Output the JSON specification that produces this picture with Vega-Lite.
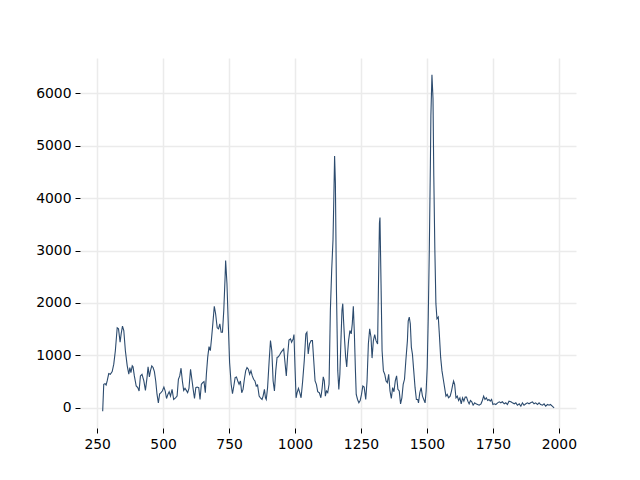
{
  "$schema": "https://vega.github.io/schema/vega-lite/v6.json",
  "width": 496,
  "height": 370,
  "autosize": {"type": "none"},
  "padding": {"left": 80, "top": 58, "right": 64, "bottom": 52},
  "background": "white",
  "config": {
    "view": {"stroke": null},
    "axis": {
      "domain": false,
      "grid": true,
      "gridColor": "#ebebeb",
      "gridWidth": 1.5,
      "tickColor": "#000000",
      "tickWidth": 1,
      "tickSize": 5,
      "labelFont": "DejaVu Sans",
      "labelFontSize": 13.9,
      "labelColor": "#000000",
      "labelPadding": 4,
      "title": null
    }
  },
  "data": {
    "values": [
      {"x": 271, "y": -64}, {"x": 275, "y": 449}, {"x": 280, "y": 462}, {"x": 284, "y": 436}, {"x": 288, "y": 513},
      {"x": 294, "y": 654}, {"x": 300, "y": 641}, {"x": 307, "y": 692}, {"x": 313, "y": 833}, {"x": 319, "y": 1090},
      {"x": 326, "y": 1526}, {"x": 331, "y": 1506}, {"x": 337, "y": 1250}, {"x": 341, "y": 1410}, {"x": 346, "y": 1558},
      {"x": 351, "y": 1474}, {"x": 357, "y": 1090}, {"x": 364, "y": 801}, {"x": 370, "y": 641}, {"x": 374, "y": 769},
      {"x": 378, "y": 673}, {"x": 383, "y": 801}, {"x": 386, "y": 782}, {"x": 391, "y": 609}, {"x": 398, "y": 417},
      {"x": 404, "y": 385}, {"x": 409, "y": 321}, {"x": 414, "y": 609}, {"x": 420, "y": 641}, {"x": 427, "y": 513},
      {"x": 433, "y": 333}, {"x": 439, "y": 577}, {"x": 443, "y": 782}, {"x": 448, "y": 590}, {"x": 452, "y": 705},
      {"x": 457, "y": 801}, {"x": 462, "y": 769}, {"x": 467, "y": 692}, {"x": 472, "y": 513}, {"x": 477, "y": 256},
      {"x": 482, "y": 96}, {"x": 487, "y": 269}, {"x": 492, "y": 289}, {"x": 497, "y": 321}, {"x": 503, "y": 397},
      {"x": 508, "y": 321}, {"x": 513, "y": 179}, {"x": 518, "y": 256}, {"x": 523, "y": 308}, {"x": 528, "y": 224},
      {"x": 534, "y": 353}, {"x": 540, "y": 160}, {"x": 547, "y": 192}, {"x": 553, "y": 224}, {"x": 558, "y": 545},
      {"x": 563, "y": 609}, {"x": 568, "y": 756}, {"x": 573, "y": 513}, {"x": 578, "y": 333}, {"x": 583, "y": 372},
      {"x": 588, "y": 333}, {"x": 593, "y": 289}, {"x": 598, "y": 372}, {"x": 604, "y": 737}, {"x": 609, "y": 545},
      {"x": 614, "y": 353}, {"x": 619, "y": 179}, {"x": 624, "y": 385}, {"x": 629, "y": 397}, {"x": 635, "y": 385},
      {"x": 640, "y": 160}, {"x": 645, "y": 449}, {"x": 650, "y": 481}, {"x": 655, "y": 500}, {"x": 660, "y": 289},
      {"x": 664, "y": 641}, {"x": 669, "y": 962}, {"x": 674, "y": 1167}, {"x": 679, "y": 1090}, {"x": 684, "y": 1346},
      {"x": 689, "y": 1635}, {"x": 694, "y": 1936}, {"x": 699, "y": 1795}, {"x": 705, "y": 1526}, {"x": 710, "y": 1506},
      {"x": 715, "y": 1602}, {"x": 720, "y": 1442}, {"x": 725, "y": 1442}, {"x": 730, "y": 1859}, {"x": 735, "y": 2500},
      {"x": 737, "y": 2808}, {"x": 742, "y": 2372}, {"x": 747, "y": 1602}, {"x": 752, "y": 865}, {"x": 758, "y": 449},
      {"x": 763, "y": 269}, {"x": 768, "y": 417}, {"x": 773, "y": 577}, {"x": 778, "y": 590}, {"x": 783, "y": 513},
      {"x": 788, "y": 449}, {"x": 793, "y": 513}, {"x": 798, "y": 289}, {"x": 803, "y": 353}, {"x": 808, "y": 545},
      {"x": 813, "y": 705}, {"x": 818, "y": 769}, {"x": 823, "y": 737}, {"x": 828, "y": 641}, {"x": 833, "y": 705},
      {"x": 838, "y": 609}, {"x": 843, "y": 545}, {"x": 848, "y": 513}, {"x": 853, "y": 417}, {"x": 858, "y": 436},
      {"x": 864, "y": 224}, {"x": 869, "y": 192}, {"x": 875, "y": 160}, {"x": 879, "y": 224}, {"x": 884, "y": 353},
      {"x": 888, "y": 192}, {"x": 891, "y": 160}, {"x": 896, "y": 385}, {"x": 902, "y": 897}, {"x": 907, "y": 1282},
      {"x": 912, "y": 1090}, {"x": 917, "y": 513}, {"x": 922, "y": 321}, {"x": 927, "y": 705}, {"x": 932, "y": 962},
      {"x": 937, "y": 974}, {"x": 942, "y": 1013}, {"x": 947, "y": 1058}, {"x": 952, "y": 1090}, {"x": 957, "y": 1122},
      {"x": 962, "y": 865}, {"x": 967, "y": 609}, {"x": 972, "y": 994}, {"x": 977, "y": 1295}, {"x": 983, "y": 1314},
      {"x": 987, "y": 1250}, {"x": 993, "y": 1314}, {"x": 996, "y": 1397}, {"x": 1000, "y": 769}, {"x": 1004, "y": 192},
      {"x": 1008, "y": 289}, {"x": 1013, "y": 372}, {"x": 1018, "y": 289}, {"x": 1023, "y": 192}, {"x": 1029, "y": 513},
      {"x": 1035, "y": 897}, {"x": 1041, "y": 1410}, {"x": 1045, "y": 1442}, {"x": 1050, "y": 1026}, {"x": 1055, "y": 1218},
      {"x": 1061, "y": 1282}, {"x": 1066, "y": 1282}, {"x": 1071, "y": 897}, {"x": 1076, "y": 513}, {"x": 1081, "y": 449},
      {"x": 1086, "y": 308}, {"x": 1092, "y": 289}, {"x": 1098, "y": 192}, {"x": 1103, "y": 385}, {"x": 1107, "y": 590},
      {"x": 1111, "y": 513}, {"x": 1115, "y": 224}, {"x": 1119, "y": 321}, {"x": 1124, "y": 289}, {"x": 1129, "y": 449},
      {"x": 1134, "y": 1859}, {"x": 1139, "y": 2628}, {"x": 1144, "y": 3205}, {"x": 1147, "y": 3974}, {"x": 1150, "y": 4800},
      {"x": 1153, "y": 4295}, {"x": 1157, "y": 2244}, {"x": 1162, "y": 705}, {"x": 1166, "y": 353}, {"x": 1170, "y": 641},
      {"x": 1174, "y": 1282}, {"x": 1178, "y": 1859}, {"x": 1181, "y": 1987}, {"x": 1184, "y": 1667}, {"x": 1188, "y": 1282},
      {"x": 1192, "y": 962}, {"x": 1196, "y": 782}, {"x": 1199, "y": 1026}, {"x": 1203, "y": 1282}, {"x": 1208, "y": 1474},
      {"x": 1213, "y": 1410}, {"x": 1217, "y": 1602}, {"x": 1221, "y": 1936}, {"x": 1225, "y": 1410}, {"x": 1229, "y": 705},
      {"x": 1232, "y": 256}, {"x": 1237, "y": 160}, {"x": 1242, "y": 96}, {"x": 1247, "y": 141}, {"x": 1252, "y": 256},
      {"x": 1257, "y": 417}, {"x": 1262, "y": 397}, {"x": 1268, "y": 160}, {"x": 1273, "y": 513}, {"x": 1278, "y": 1218},
      {"x": 1283, "y": 1506}, {"x": 1288, "y": 1346}, {"x": 1292, "y": 949}, {"x": 1297, "y": 1282}, {"x": 1302, "y": 1397},
      {"x": 1307, "y": 1282}, {"x": 1313, "y": 1218}, {"x": 1316, "y": 2244}, {"x": 1320, "y": 3526}, {"x": 1322, "y": 3630},
      {"x": 1326, "y": 2372}, {"x": 1330, "y": 1090}, {"x": 1335, "y": 705}, {"x": 1340, "y": 641}, {"x": 1345, "y": 513},
      {"x": 1350, "y": 481}, {"x": 1355, "y": 641}, {"x": 1360, "y": 321}, {"x": 1365, "y": 179}, {"x": 1370, "y": 385},
      {"x": 1375, "y": 308}, {"x": 1380, "y": 513}, {"x": 1385, "y": 609}, {"x": 1390, "y": 353}, {"x": 1395, "y": 321},
      {"x": 1400, "y": 77}, {"x": 1405, "y": 192}, {"x": 1410, "y": 449}, {"x": 1415, "y": 545}, {"x": 1420, "y": 897},
      {"x": 1426, "y": 1282}, {"x": 1429, "y": 1654}, {"x": 1433, "y": 1731}, {"x": 1437, "y": 1602}, {"x": 1441, "y": 1154},
      {"x": 1445, "y": 1026}, {"x": 1450, "y": 705}, {"x": 1455, "y": 385}, {"x": 1460, "y": 160}, {"x": 1465, "y": 160},
      {"x": 1468, "y": 96}, {"x": 1473, "y": 289}, {"x": 1478, "y": 385}, {"x": 1483, "y": 224}, {"x": 1488, "y": 160},
      {"x": 1493, "y": 96}, {"x": 1497, "y": 321}, {"x": 1501, "y": 769}, {"x": 1505, "y": 1731}, {"x": 1509, "y": 3013},
      {"x": 1513, "y": 4615}, {"x": 1515, "y": 5577}, {"x": 1519, "y": 6350}, {"x": 1523, "y": 5898}, {"x": 1526, "y": 4423},
      {"x": 1530, "y": 3013}, {"x": 1534, "y": 1987}, {"x": 1538, "y": 1699}, {"x": 1543, "y": 1731}, {"x": 1547, "y": 1410},
      {"x": 1552, "y": 962}, {"x": 1557, "y": 705}, {"x": 1562, "y": 545}, {"x": 1567, "y": 385}, {"x": 1572, "y": 224},
      {"x": 1577, "y": 256}, {"x": 1582, "y": 192}, {"x": 1588, "y": 224}, {"x": 1593, "y": 321}, {"x": 1598, "y": 449},
      {"x": 1601, "y": 513}, {"x": 1605, "y": 449}, {"x": 1610, "y": 192}, {"x": 1615, "y": 224}, {"x": 1620, "y": 141},
      {"x": 1625, "y": 192}, {"x": 1630, "y": 77}, {"x": 1635, "y": 192}, {"x": 1640, "y": 128}, {"x": 1645, "y": 205},
      {"x": 1650, "y": 205}, {"x": 1655, "y": 128}, {"x": 1660, "y": 77}, {"x": 1665, "y": 141}, {"x": 1670, "y": 115},
      {"x": 1675, "y": 51}, {"x": 1681, "y": 96}, {"x": 1686, "y": 77}, {"x": 1692, "y": 64}, {"x": 1698, "y": 51},
      {"x": 1705, "y": 77}, {"x": 1710, "y": 141}, {"x": 1715, "y": 224}, {"x": 1720, "y": 160}, {"x": 1725, "y": 192},
      {"x": 1730, "y": 141}, {"x": 1735, "y": 160}, {"x": 1740, "y": 128}, {"x": 1745, "y": 160}, {"x": 1750, "y": 64},
      {"x": 1755, "y": 77}, {"x": 1761, "y": 64}, {"x": 1768, "y": 96}, {"x": 1774, "y": 115}, {"x": 1780, "y": 96},
      {"x": 1786, "y": 115}, {"x": 1793, "y": 77}, {"x": 1799, "y": 96}, {"x": 1805, "y": 64}, {"x": 1811, "y": 128},
      {"x": 1818, "y": 115}, {"x": 1824, "y": 96}, {"x": 1831, "y": 77}, {"x": 1837, "y": 96}, {"x": 1843, "y": 51},
      {"x": 1850, "y": 77}, {"x": 1856, "y": 32}, {"x": 1862, "y": 96}, {"x": 1868, "y": 51}, {"x": 1875, "y": 77},
      {"x": 1881, "y": 96}, {"x": 1887, "y": 77}, {"x": 1893, "y": 96}, {"x": 1900, "y": 115}, {"x": 1906, "y": 77},
      {"x": 1912, "y": 96}, {"x": 1919, "y": 64}, {"x": 1925, "y": 96}, {"x": 1931, "y": 64}, {"x": 1938, "y": 51},
      {"x": 1944, "y": 77}, {"x": 1950, "y": 32}, {"x": 1957, "y": 64}, {"x": 1963, "y": 51}, {"x": 1968, "y": 64},
      {"x": 1975, "y": 32}, {"x": 1982, "y": 0}
    ]
  },
  "mark": {"type": "line", "color": "#2c4b6e", "strokeWidth": 1.1, "clip": true},
  "encoding": {
    "x": {
      "field": "x",
      "type": "quantitative",
      "scale": {"domain": [185, 2065], "nice": false, "zero": false},
      "axis": {"values": [250, 500, 750, 1000, 1250, 1500, 1750, 2000], "format": "d", "orient": "bottom"}
    },
    "y": {
      "field": "y",
      "type": "quantitative",
      "scale": {"domain": [-384, 6671], "nice": false, "zero": false},
      "axis": {"values": [0, 1000, 2000, 3000, 4000, 5000, 6000], "format": "d", "orient": "left"}
    }
  }
}
